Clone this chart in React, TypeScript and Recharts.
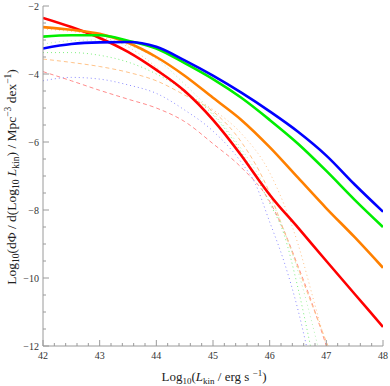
import React from "react";
import { LineChart, Line, XAxis, YAxis, Label } from "recharts";

const SERIF = "'Liberation Serif', 'DejaVu Serif', serif";

// solid curves
const X_SOLID = [42, 42.5, 43, 43.5, 44, 44.5, 45, 45.5, 46, 46.5, 47, 47.5, 48];
const X_RED = [42, 42.5, 43, 43.5, 44, 44.5, 45, 45.5, 45.8, 46, 46.5, 47, 47.5, 48];
const RED = [-2.35, -2.62, -2.94, -3.35, -3.88, -4.5, -5.35, -6.4, -7.1, -7.55, -8.52, -9.5, -10.47, -11.44];
const ORANGE = [-2.62, -2.7, -2.82, -3.08, -3.5, -4.05, -4.7, -5.35, -6.15, -7.05, -7.95, -8.8, -9.7];
const GREEN = [-2.9, -2.86, -2.86, -3.02, -3.25, -3.68, -4.15, -4.7, -5.35, -6.05, -6.85, -7.7, -8.5];
const BLUE = [-3.25, -3.12, -3.07, -3.06, -3.2, -3.6, -4.05, -4.55, -5.1, -5.7, -6.4, -7.25, -8.05];

// faint component curves
const X_RED_DASH = [42, 42.5, 43, 43.5, 44, 44.5, 45, 45.5, 46, 46.25, 46.5, 46.75, 47];
const RED_DASH = [-3.93, -4.2, -4.48, -4.74, -5.0, -5.4, -6.05, -6.75, -7.75, -8.6, -9.65, -10.75, -12];

const X_ORANGE_DASH = [42, 42.5, 43, 43.5, 44, 44.5, 45, 45.5, 46, 46.25, 46.5, 46.75, 47.03];
const ORANGE_DASH = [-3.56, -3.66, -3.78, -3.95, -4.2, -4.62, -5.1, -6.0, -7.5, -8.6, -9.7, -10.8, -12];

const X_ORANGE_DOT = [42, 43, 43.5, 44, 44.5, 45, 45.5, 46, 46.5, 46.8, 47];
const ORANGE_DOT = [-2.68, -2.9, -3.2, -3.8, -4.55, -5.05, -5.75, -6.9, -9.0, -10.8, -12];

const X_GREEN_DOT = [42, 42.5, 43, 43.5, 44, 44.5, 45, 45.5, 45.75, 46, 46.25, 46.5, 46.72];
const GREEN_DOT = [-3.37, -3.37, -3.45, -3.65, -4.0, -4.5, -5.2, -6.3, -7.0, -7.8, -8.7, -10.3, -12];

const X_GREEN_PALE = [42, 42.5, 43, 43.5, 44, 44.5, 45, 45.5, 46, 46.5, 46.85];
const GREEN_PALE = [-3.12, -3.02, -3.0, -3.15, -3.55, -4.3, -5.15, -6.2, -7.6, -9.8, -12];

const X_BLUE_DOT = [42, 42.5, 43, 43.5, 44, 44.5, 45, 45.5, 45.75, 46, 46.25, 46.5, 46.65];
const BLUE_DOT = [-4.2, -4.1, -4.15, -4.32, -4.57, -5.06, -5.68, -6.6, -7.24, -8.35, -9.5, -10.94, -12];

const X_MAJOR = [42, 43, 44, 45, 46, 47, 48];
const Y_MAJOR = [-12, -10, -8, -6, -4, -2];

const series = [
    { key: "redDash", xs: X_RED_DASH, ys: RED_DASH },
    { key: "orangeDash", xs: X_ORANGE_DASH, ys: ORANGE_DASH },
    { key: "orangeDot", xs: X_ORANGE_DOT, ys: ORANGE_DOT },
    { key: "greenDot", xs: X_GREEN_DOT, ys: GREEN_DOT },
    { key: "greenPale", xs: X_GREEN_PALE, ys: GREEN_PALE },
    { key: "blueDot", xs: X_BLUE_DOT, ys: BLUE_DOT },
    { key: "red", xs: X_RED, ys: RED },
    { key: "orange", xs: X_SOLID, ys: ORANGE },
    { key: "green", xs: X_SOLID, ys: GREEN },
    { key: "blue", xs: X_SOLID, ys: BLUE },
];

// one table, one row per x, gaps bridged with connectNulls
const allX = Array.from(new Set(series.flatMap((s) => s.xs))).sort((a, b) => a - b);
const chartData = allX.map((x) => {
    const row: Record<string, number> = { x };
    series.forEach((s) => {
        const i = s.xs.indexOf(x);
        if (i >= 0) row[s.key] = s.ys[i];
    });
    return row;
});

// minor ticks: 0.2 on x, 0.5 on y
const xTicks: number[] = [];
for (let i = 0; i <= 30; i++) xTicks.push(+(42 + i * 0.2).toFixed(2));
const yTicks: number[] = [];
for (let i = 0; i <= 20; i++) yTicks.push(-12 + i * 0.5);

const FRAME = "#9a9a9a";
const isMajor = (v: number, majors: number[]) => majors.some((m) => Math.abs(m - v) < 1e-6);
const fmt = (v: number) => (v < 0 ? `\u2212${Math.abs(v)}` : `${v}`);

const BottomTick = (props: any) => {
    const { x, y, payload } = props;
    const major = isMajor(payload.value, X_MAJOR);
    return (
        <g>
            <line x1={x} x2={x} y1={y} y2={y - (major ? 6 : 3)} stroke={FRAME} />
            {major && (
                <text x={x} y={y + 13} textAnchor="middle" fontSize={10} fontFamily={SERIF} fill="#333">
                    {payload.value}
                </text>
            )}
        </g>
    );
};

const TopTick = (props: any) => {
    const { x, y, payload } = props;
    const major = isMajor(payload.value, X_MAJOR);
    return <line x1={x} x2={x} y1={y} y2={y + (major ? 6 : 3)} stroke={FRAME} />;
};

const LeftTick = (props: any) => {
    const { x, y, payload } = props;
    const major = isMajor(payload.value, Y_MAJOR);
    return (
        <g>
            <line x1={x} x2={x + (major ? 6 : 3)} y1={y} y2={y} stroke={FRAME} />
            {major && (
                <text x={x - 4} y={y + 3.5} textAnchor="end" fontSize={10} fontFamily={SERIF} fill="#333">
                    {fmt(payload.value)}
                </text>
            )}
        </g>
    );
};

const RightTick = (props: any) => {
    const { x, y, payload } = props;
    const major = isMajor(payload.value, Y_MAJOR);
    return <line x1={x} x2={x - (major ? 6 : 3)} y1={y} y2={y} stroke={FRAME} />;
};

const XTitle = () => (
    <text x={214} y={381} textAnchor="middle" fontFamily={SERIF} fontSize={13} fill="#222">
        Log<tspan fontSize={9} dy={3}>10</tspan>
        <tspan dy={-3}>(</tspan>
        <tspan fontStyle="italic">L</tspan>
        <tspan fontSize={9} dy={3}>kin</tspan>
        <tspan dy={-3}> / erg s </tspan>
        <tspan fontSize={9} dy={-5}>{"\u22121"}</tspan>
        <tspan dy={5}>)</tspan>
    </text>
);

const YTitle = () => (
    <text
        x={0}
        y={0}
        transform="translate(16, 177) rotate(-90)"
        textAnchor="middle"
        fontFamily={SERIF}
        fontSize={13.5}
        fill="#222"
    >
        Log<tspan fontSize={9.5} dy={3}>10</tspan>
        <tspan dy={-3}>(dΦ / d(Log</tspan>
        <tspan fontSize={9.5} dy={3}>10</tspan>
        <tspan dy={-3}> </tspan>
        <tspan fontStyle="italic">L</tspan>
        <tspan fontSize={9.5} dy={3}>kin</tspan>
        <tspan dy={-3}>) / Mpc</tspan>
        <tspan fontSize={9.5} dy={-5}>{"\u22123"}</tspan>
        <tspan dy={5}> dex</tspan>
        <tspan fontSize={9.5} dy={-5}>{"\u22121"}</tspan>
        <tspan dy={5}>)</tspan>
    </text>
);

const solid = [
    { key: "red", color: "#ff0000" },
    { key: "orange", color: "#ff8000" },
    { key: "green", color: "#00ee00" },
    { key: "blue", color: "#0000ff" },
];

const faint = [
    { key: "redDash", color: "#ff8c8c", dash: "4 3" },
    { key: "orangeDash", color: "#ffc48a", dash: "4 3" },
    { key: "orangeDot", color: "#ffc48a", dash: "1 3" },
    { key: "greenDot", color: "#7ef07e", dash: "1 3" },
    { key: "greenPale", color: "#b8f5b8", dash: "1 3" },
    { key: "blueDot", color: "#8c8cff", dash: "1 3" },
];

export default function App() {
    return (
        <div style={{ width: 390, height: 386, background: "#fff" }}>
            <style>{`body { margin: 0; }`}</style>
            <LineChart
                width={390}
                height={386}
                data={chartData}
                margin={{ top: 6, right: 7, left: 0, bottom: 0 }}
            >
                <XAxis
                    xAxisId="b"
                    dataKey="x"
                    type="number"
                    domain={[42, 48]}
                    ticks={xTicks}
                    interval={0}
                    allowDataOverflow
                    height={40}
                    tickSize={0}
                    tickMargin={0}
                    tick={<BottomTick />}
                    stroke={FRAME}
                >
                    <Label content={() => <XTitle />} />
                </XAxis>
                <XAxis
                    xAxisId="t"
                    orientation="top"
                    dataKey="x"
                    type="number"
                    domain={[42, 48]}
                    ticks={xTicks}
                    interval={0}
                    allowDataOverflow
                    height={0}
                    tickSize={0}
                    tickMargin={0}
                    tick={<TopTick />}
                    stroke={FRAME}
                />
                <YAxis
                    yAxisId="l"
                    type="number"
                    domain={[-12, -2]}
                    ticks={yTicks}
                    interval={0}
                    allowDataOverflow
                    width={43}
                    tickSize={0}
                    tickMargin={0}
                    tick={<LeftTick />}
                    stroke={FRAME}
                >
                    <Label content={() => <YTitle />} />
                </YAxis>
                <YAxis
                    yAxisId="r"
                    orientation="right"
                    type="number"
                    domain={[-12, -2]}
                    ticks={yTicks}
                    interval={0}
                    allowDataOverflow
                    width={0}
                    tickSize={0}
                    tickMargin={0}
                    tick={<RightTick />}
                    stroke={FRAME}
                />

                {/* keeps the top and right frame axes alive */}
                <Line
                    xAxisId="t"
                    yAxisId="r"
                    dataKey="red"
                    stroke="none"
                    dot={false}
                    activeDot={false}
                    connectNulls
                    isAnimationActive={false}
                />

                {faint.map((s) => (
                    <Line
                        key={s.key}
                        xAxisId="b"
                        yAxisId="l"
                        dataKey={s.key}
                        type="monotone"
                        stroke={s.color}
                        strokeWidth={1}
                        strokeDasharray={s.dash}
                        dot={false}
                        activeDot={false}
                        connectNulls
                        isAnimationActive={false}
                    />
                ))}

                {solid.map((s) => (
                    <Line
                        key={s.key}
                        xAxisId="b"
                        yAxisId="l"
                        dataKey={s.key}
                        type="monotone"
                        stroke={s.color}
                        strokeWidth={2.6}
                        dot={false}
                        activeDot={false}
                        connectNulls
                        isAnimationActive={false}
                    />
                ))}
            </LineChart>
        </div>
    );
}
